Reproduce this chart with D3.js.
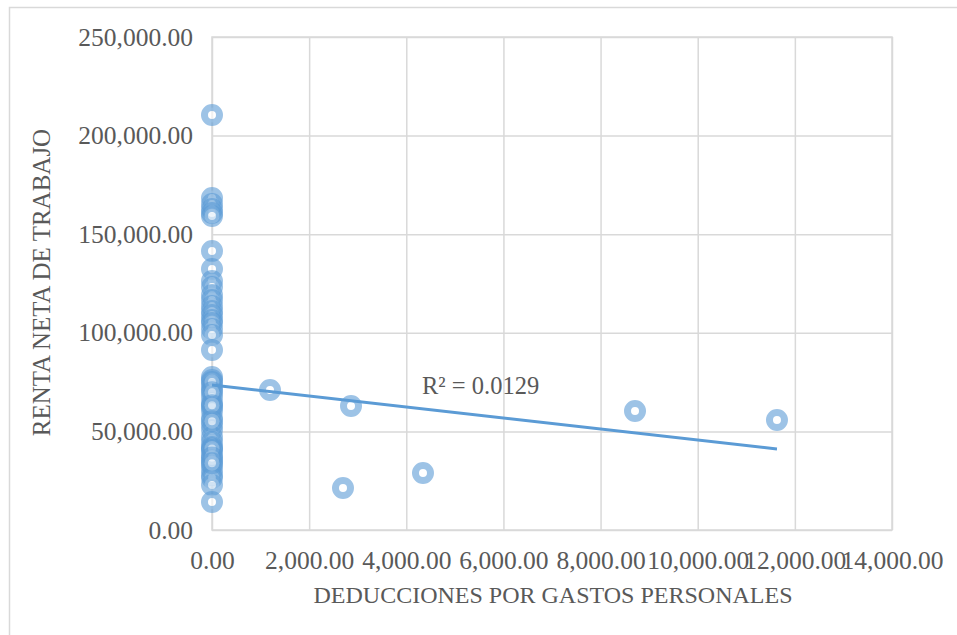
<!DOCTYPE html>
<html>
<head>
<meta charset="utf-8">
<script src="https://cdn.jsdelivr.net/npm/d3@7"></script>
<style>
  html, body { margin: 0; padding: 0; background: #fff; }
  svg { display: block; }
</style>
</head>
<body>
<svg id="chart" width="957" height="635"></svg>
<script>
// Deducciones por gastos personales (x) vs. renta neta de trabajo (y)
const deducciones = [
  0, 0, 0, 0, 0, 0, 0, 0, 0, 0, 0, 0, 0, 0, 0, 0, 0, 0, 0, 0,
  0, 0, 0, 0, 0, 0, 0, 0, 0, 0, 0, 0, 0, 0, 0, 0, 0, 0, 0, 0,
  0, 0, 0, 0, 0, 0, 0, 0, 0, 0,
  1194, 2862, 2697, 4344, 8709, 11632
];
const rentaNeta = [
  210450, 168360, 165320, 162780, 160750, 159230, 141480, 132350, 126270, 123230,
  119170, 116630, 113590, 111050, 109020, 106490, 104970, 101930, 98880, 91270,
  77590, 76070, 73020, 71000, 67440, 64400, 62370, 60340, 56800, 53250,
  50710, 47160, 44620, 42090, 40570, 38030, 35500, 32960, 30430, 27890,
  26370, 22820, 14200, 75000, 69800, 63300, 55200, 41300, 36800, 33900,
  71000, 62880, 21300, 28900, 60340, 55780
];
const xTicks = [0, 2000, 4000, 6000, 8000, 10000, 12000, 14000];
const yTicks = [0, 50000, 100000, 150000, 200000, 250000];

// Linear trendline coefficients and its fit statistic
const trendIntercept = 73500;
const trendSlope = -2.79;
const rSquaredLabel = "R² = 0.0129";

const xTitle = "DEDUCCIONES POR GASTOS PERSONALES";
const yTitle = "RENTA NETA DE TRABAJO";

const svg = d3.select("#chart");
const font = "'Liberation Serif', 'Times New Roman', serif";
const textColor = "#595959";
const gridColor = "#D9D9D9";
const blue = "#5B9BD5";

const plot = { left: 212, top: 37, right: 892, bottom: 530 };

const x = d3.scaleLinear().domain([0, 14000]).range([plot.left, plot.right]);
const y = d3.scaleLinear().domain([0, 250000]).range([plot.bottom, plot.top]);

// outer chart frame
svg.append("rect")
  .attr("x", 9.5).attr("y", 7.5)
  .attr("width", 960).attr("height", 640)
  .attr("fill", "none").attr("stroke", gridColor).attr("stroke-width", 1.5);

const fmt = d3.format(",.2f");

// horizontal gridlines + y tick labels
const yAxis = d3.axisLeft(y).tickValues(yTicks).tickSize(-(plot.right - plot.left))
  .tickFormat(fmt).tickPadding(19);
const gy = svg.append("g").attr("transform", `translate(${plot.left},0)`).call(yAxis);
gy.select(".domain").remove();
gy.selectAll(".tick line").attr("stroke", gridColor).attr("stroke-width", 1.5);
gy.selectAll(".tick text")
  .attr("fill", textColor).style("font-family", font).style("font-size", "25.5px");

// vertical gridlines + x tick labels
const xAxis = d3.axisBottom(x).tickValues(xTicks).tickSize(-(plot.bottom - plot.top))
  .tickFormat(fmt).tickPadding(21);
const gx = svg.append("g").attr("transform", `translate(0,${plot.bottom})`).call(xAxis);
gx.select(".domain").remove();
gx.selectAll(".tick line").attr("stroke", gridColor).attr("stroke-width", 1.5);
gx.selectAll(".tick text")
  .attr("fill", textColor).style("font-family", font).style("font-size", "25.5px");

// plot area outline
svg.append("rect")
  .attr("x", plot.left).attr("y", plot.top)
  .attr("width", plot.right - plot.left).attr("height", plot.bottom - plot.top)
  .attr("fill", "none").attr("stroke", gridColor).attr("stroke-width", 1.5);

// scatter markers: translucent ring with white centre
const pts = deducciones.map((d, i) => ({ x: d, y: rentaNeta[i] }));
svg.append("g").selectAll("circle").data(pts).join("circle")
  .attr("cx", d => x(d.x)).attr("cy", d => y(d.y))
  .attr("r", 7.5)
  .attr("fill", "#fff").attr("fill-opacity", 0.6)
  .attr("stroke", blue).attr("stroke-opacity", 0.6).attr("stroke-width", 7);

// linear trendline over the data range
const xMax = d3.max(deducciones);
const trend = [0, xMax].map(v => ({ x: v, y: trendIntercept + trendSlope * v }));
svg.append("path")
  .datum(trend)
  .attr("d", d3.line().x(d => x(d.x)).y(d => y(d.y)))
  .attr("fill", "none").attr("stroke", blue).attr("stroke-width", 3);

svg.append("text")
  .attr("x", 422).attr("y", 394)
  .attr("fill", textColor).style("font-family", font).style("font-size", "24.5px")
  .text(rSquaredLabel);

// axis titles
svg.append("text")
  .attr("x", (plot.left + plot.right) / 2 + 1).attr("y", 603)
  .attr("text-anchor", "middle")
  .attr("fill", textColor).style("font-family", font).style("font-size", "24px")
  .text(xTitle);

svg.append("text")
  .attr("transform", `translate(50,${(plot.top + plot.bottom) / 2 - 1}) rotate(-90)`)
  .attr("text-anchor", "middle")
  .attr("fill", textColor).style("font-family", font).style("font-size", "25px")
  .text(yTitle);
</script>
</body>
</html>
